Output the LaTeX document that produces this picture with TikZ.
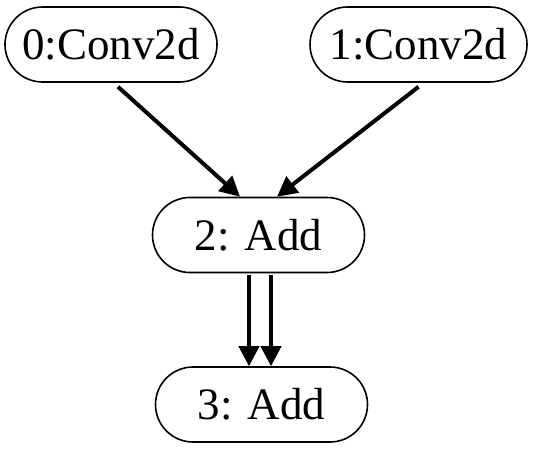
\documentclass[tikz,border=0pt]{standalone}
\usepackage{fontspec}
\setmainfont{Liberation Serif}
\usetikzlibrary{arrows.meta}

\tikzset{
	op/.style={draw, line width=0.8pt, rectangle, rounded corners=18.75pt,
		minimum width=106pt, minimum height=37.5pt, inner sep=0pt,
		font=\fontsize{22.5}{27}\selectfont},
	edge/.style={line width=2pt, -{Triangle[length=10pt, width=10pt]}}
}

\begin{document}
\begin{tikzpicture}[x=0.5pt, y=-0.5pt]
		\useasboundingbox (0,0) rectangle (550,449);
		
		% 两个卷积节点
		\node[op] (conv0) at (111,44.5) {0:Conv2d};
		\node[op, minimum width=108.5pt] (conv1) at (418.5,44.5) {1:Conv2d};
		
		% 加法节点
		\node[op] (add2) at (258.5,235) {2: Add};
		\node[op] (add3) at (261.5,404.5) {3: Add};
		
		% 卷积 -> 加法
		\draw[edge] ([xshift=3.5pt, yshift=-2pt]conv0.south) -- ([xshift=-9.25pt]add2.north);
		\draw[edge] ([yshift=-2pt]conv1.south) -- ([xshift=9.25pt]add2.north);
		
		% 加法 -> 加法 (两条平行边)
		\coordinate (a) at ([xshift=-4.75pt, yshift=-1pt]add2.south);
		\coordinate (b) at ([xshift=6.25pt, yshift=-1pt]add2.south);
		\draw[edge] (a) -- (a |- add3.north);
		\draw[edge] (b) -- (b |- add3.north);
	
	\end{tikzpicture}
\end{document}
